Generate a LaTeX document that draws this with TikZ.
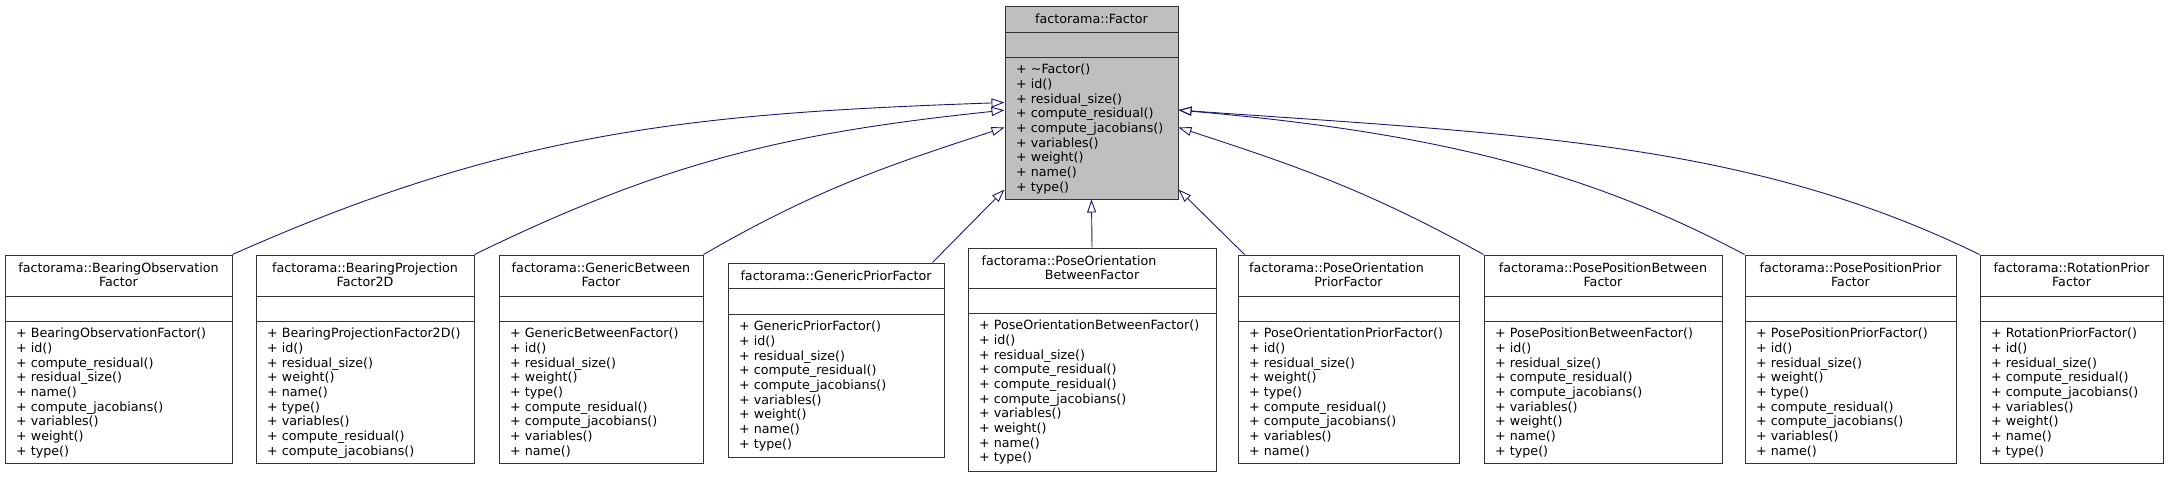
\documentclass[tikz,border=0pt]{standalone}
\usepackage{fontspec}
\setmainfont{DejaVu Sans}
\usepackage{tikz}
\usetikzlibrary{fit,positioning,arrows.meta}

\definecolor{edgeblue}{HTML}{191970}
\definecolor{basegray}{HTML}{BFBFBF}

\tikzset{
  classbox/.style = {draw = black!80, line width = 1pt, inner sep = 0pt},
  base box/.style = {fill = basegray},
  classtitle/.style = {anchor = north, align = center, inner sep = 0pt, font = \fontsize{12.7}{14.7}\selectfont},
  classmembers/.style = {anchor = north west, align = left, inner sep = 0pt, font = \fontsize{12.7}{14.7}\selectfont},
  inherit/.style = {draw = edgeblue, line width = .9pt, -{Triangle[open, length = 13pt, width = 9pt]}},
}

% name, left, right, top, title rule, member rule, bottom, title, members
\newcommand{\umlclass}[9]{
  \node[classbox, #1 box/.try, fit = {(#2,#4) (#3,#7)}] (#1) {};
  \draw[classbox] (#2,#5) -- (#3,#5);
  \draw[classbox] (#2,#6) -- (#3,#6);
  \node[classtitle] (#1-title) at ({(#2+#3)/2}, #4+7.4) {#8};
  \node[classmembers] (#1-members) at (#2+11, #6+6.8) {#9};
}

\begin{document}
\begin{tikzpicture}[x = 1pt, y = -1pt]
    \useasboundingbox (0,0) rectangle (2169,477);

    \umlclass{base}{1005}{1178}{6}{32}{57}{199}{factorama::Factor}
      {+ \textasciitilde Factor()\\+ id()\\+ residual\_size()\\+ compute\_residual()\\+ compute\_jacobians()\\+ variables()\\+ weight()\\+ name()\\+ type()}

    \umlclass{bobs}{5}{232}{255}{296}{321}{463}{factorama::BearingObservation\\Factor}
      {+ BearingObservationFactor()\\+ id()\\+ compute\_residual()\\+ residual\_size()\\+ name()\\+ compute\_jacobians()\\+ variables()\\+ weight()\\+ type()}
    \umlclass{bproj}{256}{474}{255}{296}{321}{463}{factorama::BearingProjection\\Factor2D}
      {+ BearingProjectionFactor2D()\\+ id()\\+ residual\_size()\\+ weight()\\+ name()\\+ type()\\+ variables()\\+ compute\_residual()\\+ compute\_jacobians()}
    \umlclass{gbetween}{499}{703}{255}{296}{321}{463}{factorama::GenericBetween\\Factor}
      {+ GenericBetweenFactor()\\+ id()\\+ residual\_size()\\+ weight()\\+ type()\\+ compute\_residual()\\+ compute\_jacobians()\\+ variables()\\+ name()}
    \umlclass{gprior}{728}{944}{263}{288}{314}{457}{factorama::GenericPriorFactor}
      {+ GenericPriorFactor()\\+ id()\\+ residual\_size()\\+ compute\_residual()\\+ compute\_jacobians()\\+ variables()\\+ weight()\\+ name()\\+ type()}
    \umlclass{pobetween}{968}{1216}{248}{288}{313}{471}{factorama::PoseOrientation\hspace*{46pt}\\BetweenFactor}
      {+ PoseOrientationBetweenFactor()\\+ id()\\+ residual\_size()\\+ compute\_residual()\\+ compute\_residual()\\+ compute\_jacobians()\\+ variables()\\+ weight()\\+ name()\\+ type()}
    \umlclass{poprior}{1238}{1459}{255}{296}{321}{463}{factorama::PoseOrientation\hspace*{24pt}\\PriorFactor}
      {+ PoseOrientationPriorFactor()\\+ id()\\+ residual\_size()\\+ weight()\\+ type()\\+ compute\_residual()\\+ compute\_jacobians()\\+ variables()\\+ name()}
    \umlclass{ppbetween}{1484}{1722}{255}{296}{321}{463}{factorama::PosePositionBetween\\Factor}
      {+ PosePositionBetweenFactor()\\+ id()\\+ residual\_size()\\+ compute\_residual()\\+ compute\_jacobians()\\+ variables()\\+ weight()\\+ name()\\+ type()}
    \umlclass{ppprior}{1745}{1956}{255}{296}{321}{463}{factorama::PosePositionPrior\\Factor}
      {+ PosePositionPriorFactor()\\+ id()\\+ residual\_size()\\+ weight()\\+ type()\\+ compute\_residual()\\+ compute\_jacobians()\\+ variables()\\+ name()}
    \umlclass{rprior}{1980}{2163}{255}{296}{321}{463}{factorama::RotationPrior\\Factor}
      {+ RotationPriorFactor()\\+ id()\\+ residual\_size()\\+ compute\_residual()\\+ compute\_jacobians()\\+ variables()\\+ weight()\\+ name()\\+ type()}

    % inheritance, left side
    \draw[inherit] (bobs.north east) to[out = 24, in = 182] (base.west);
    \draw[inherit] (bproj.north east) to[out = 26, in = 186] (base.185);
    \draw[inherit] (gbetween.north east) to[out = 30, in = 198] (base.196);
    \draw[inherit] ([xshift = -12pt]gprior.north east) -- (base.225);
    \draw[inherit] (pobetween.north) -- (base.south);
    % right side
    \draw[inherit] ([xshift = 7pt]poprior.north west) -- (base.315);
    \draw[inherit] (ppbetween.north west) to[out = 151, in = 342] (base.344);
    \draw[inherit] (ppprior.north west) to[out = 152, in = 355, out looseness = .8, in looseness = 1.1] (base.355);
    \draw[inherit] (rprior.north west) to[out = 154, in = 356, out looseness = .8, in looseness = 1.1] (base.355);
\end{tikzpicture}
\end{document}
